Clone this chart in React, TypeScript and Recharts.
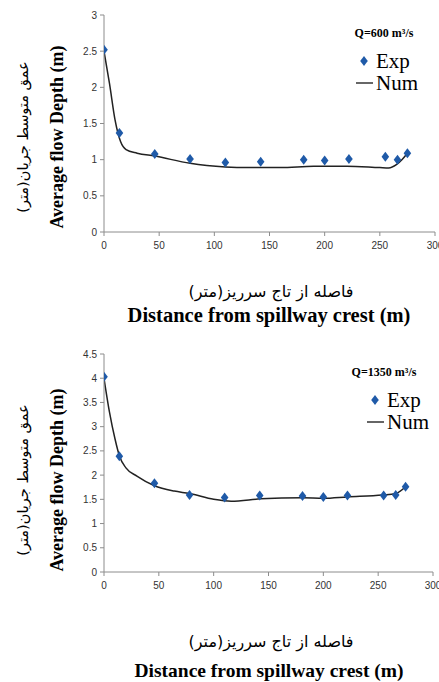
import { ComposedChart, Line, Scatter, XAxis, YAxis } from 'recharts';

const expX = [0, 14, 46, 78, 110, 142, 181, 200, 222, 255, 266, 275];
const exp600 = [2.52, 1.37, 1.08, 1.01, 0.96, 0.97, 1.0, 0.99, 1.01, 1.04, 1.0, 1.09];
const exp1350 = [4.03, 2.39, 1.83, 1.59, 1.54, 1.58, 1.57, 1.55, 1.58, 1.58, 1.59, 1.76];

const num600X = [0, 5, 10, 15, 20, 30, 46, 78, 110, 130, 160, 190, 220, 250, 258, 265, 270, 275];
const num600 = [2.5, 2.05, 1.55, 1.25, 1.14, 1.09, 1.05, 0.95, 0.9, 0.89, 0.89, 0.91, 0.91, 0.89, 0.885, 0.93, 1.0, 1.09];

const num1350X = [0, 5, 10, 14, 20, 30, 46, 64, 78, 100, 116, 143, 181, 200, 222, 254, 266, 275];
const num1350 = [4.0, 3.3, 2.75, 2.4, 2.15, 1.98, 1.78, 1.67, 1.62, 1.5, 1.46, 1.51, 1.535, 1.52, 1.55, 1.59, 1.62, 1.76];

const xTicks = [0, 50, 100, 150, 200, 250, 300];
const yTicks600 = [0, 0.5, 1, 1.5, 2, 2.5, 3];
const yTicks1350 = [0, 0.5, 1, 1.5, 2, 2.5, 3, 3.5, 4, 4.5];

const BLUE = '#1f5aa8';
const AXIS = '#8c8c8c';
const SERIF = '"Liberation Serif", "Times New Roman", serif';
const PERSIAN = '"DejaVu Sans", sans-serif';

const Diamond = (props: any) => {
  const { cx, cy } = props;
  return <polygon points={`${cx},${cy - 5} ${cx + 3.8},${cy} ${cx},${cy + 5} ${cx - 3.8},${cy}`} fill={BLUE} />;
};

type PanelProps = {
  top: number;
  height: number;
  plotTop: number;
  plotBottom: number;
  plotRight: number;
  yMax: number;
  yTicks: number[];
  exp: number[];
  numX: number[];
  num: number[];
  q: string;
  qY: number;
  legendY: number;
  legendX: number;
  yLabelY: number;
  xPersianY: number;
  xEnglishY: number;
  xEnglishSize: number;
};

function Panel(p: PanelProps) {
  const expData = expX.map((x, i) => ({ x, y: p.exp[i] }));
  const numData = p.numX.map((x, i) => ({ x, y: p.num[i] }));
  const tickStyle = { fontFamily: '"Liberation Sans Narrow", "Liberation Sans", sans-serif', fontSize: 10, fill: '#333' };

  return (
    <div style={{ position: 'absolute', left: 0, top: p.top, width: 439, height: p.height }}>
      <ComposedChart
        width={439}
        height={p.height}
        margin={{ top: p.plotTop, right: 439 - p.plotRight, bottom: p.height - p.plotBottom, left: 74 }}
      >
        <XAxis
          type="number"
          dataKey="x"
          domain={[0, 300]}
          ticks={xTicks}
          allowDataOverflow
          stroke={AXIS}
          tickSize={4}
          tickMargin={6}
          tick={tickStyle}
          height={20}
          interval={0}
        />
        <YAxis
          type="number"
          dataKey="y"
          domain={[0, p.yMax]}
          ticks={p.yTicks}
          stroke={AXIS}
          tickSize={4}
          tickMargin={3}
          tick={tickStyle}
          width={30}
          interval={0}
        />
        <Line data={numData} dataKey="y" type="monotone" stroke="#222" strokeWidth={1.5} dot={false} isAnimationActive={false} />
        <Scatter data={expData} dataKey="y" shape={<Diamond />} isAnimationActive={false} />
      </ComposedChart>

      <div
        style={{
          position: 'absolute', left: 23, top: p.yLabelY, transform: 'translate(-50%, -50%) rotate(-90deg)',
          whiteSpace: 'nowrap', fontFamily: PERSIAN, fontSize: 14.5, direction: 'rtl', color: '#000'
        }}
      >
        عمق متوسط جریان(متر)
      </div>
      <div
        style={{
          position: 'absolute', left: 57, top: p.yLabelY, transform: 'translate(-50%, -50%) rotate(-90deg)',
          whiteSpace: 'nowrap', fontFamily: SERIF, fontWeight: 'bold', fontSize: 18, color: '#000'
        }}
      >
        Average flow Depth (m)
      </div>

      <div
        style={{
          position: 'absolute', left: 271, top: p.xPersianY, transform: 'translate(-50%, -50%)',
          whiteSpace: 'nowrap', fontFamily: PERSIAN, fontSize: 16, direction: 'rtl', color: '#000'
        }}
      >
        فاصله از تاج سرریز(متر)
      </div>
      <div
        style={{
          position: 'absolute', left: 269, top: p.xEnglishY, transform: 'translate(-50%, -50%)',
          whiteSpace: 'nowrap', fontFamily: SERIF, fontWeight: 'bold', fontSize: p.xEnglishSize, color: '#000'
        }}
      >
        Distance from spillway crest (m)
      </div>

      <div
        style={{
          position: 'absolute', left: 384, top: p.qY, transform: 'translate(-50%, -50%)',
          whiteSpace: 'nowrap', fontFamily: SERIF, fontWeight: 'bold', fontSize: 12, color: '#000'
        }}
      >
        {p.q} m³/s
      </div>

      <div style={{ position: 'absolute', left: p.legendX, top: p.legendY - 12, fontFamily: SERIF, fontSize: 21, color: '#000', lineHeight: '22px' }}>
        <div style={{ display: 'flex', alignItems: 'center' }}>
          <svg width={22} height={22}>
            <polygon points="10,6 13.8,11 10,16 6.2,11" fill={BLUE} />
          </svg>
          <span>Exp</span>
        </div>
        <div style={{ display: 'flex', alignItems: 'center' }}>
          <svg width={22} height={22}>
            <line x1={2} x2={19} y1={11} y2={11} stroke="#000" strokeWidth={1.2} />
          </svg>
          <span>Num</span>
        </div>
      </div>
    </div>
  );
}

export default function App() {
  return (
    <div style={{ position: 'absolute', left: 0, top: 0, width: 439, height: 682, background: '#fff' }}>
      <Panel
        top={0}
        height={340}
        plotTop={15}
        plotBottom={252}
        plotRight={435}
        yMax={3}
        yTicks={yTicks600}
        exp={exp600}
        numX={num600X}
        num={num600}
        q="Q=600"
        qY={33}
        legendX={354}
        legendY={62}
        yLabelY={137}
        xPersianY={291}
        xEnglishY={315}
        xEnglishSize={20.5}
      />
      <Panel
        top={340}
        height={342}
        plotTop={14}
        plotBottom={252}
        plotRight={433}
        yMax={4.5}
        yTicks={yTicks1350}
        exp={exp1350}
        numX={num1350X}
        num={num1350}
        q="Q=1350"
        qY={32}
        legendX={365}
        legendY={61}
        yLabelY={140}
        xPersianY={301}
        xEnglishY={331}
        xEnglishSize={19.5}
      />
    </div>
  );
}
